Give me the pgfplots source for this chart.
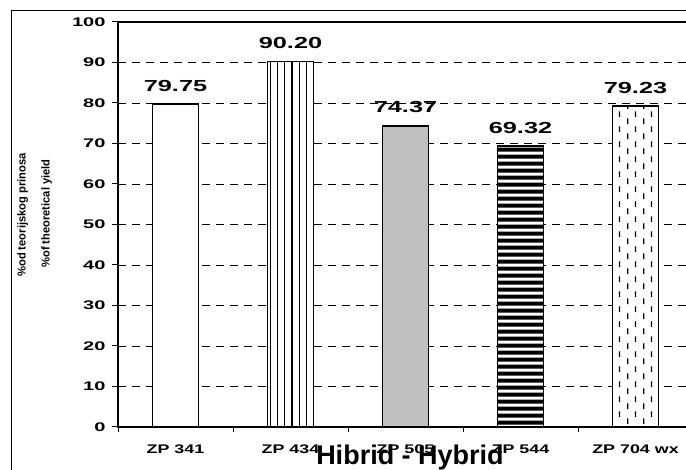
\documentclass[border=0pt]{standalone}
\usepackage{pgfplots}
\pgfplotsset{compat=1.18}
\usepackage{fontspec}
\setmainfont{Liberation Sans}
\usetikzlibrary{patterns,patterns.meta}

% short staggered vertical dashes (ZP 704 wx)
\tikzdeclarepattern{
  name=vdashes, type=uncolored,
  bounding box={(0,0) and (16pt,15pt)},
  tile size={(16pt,15pt)},
  code={
    \draw[line width=1.3pt] (4pt,1pt) -- (4pt,7pt);
    \draw[line width=1.3pt] (12pt,8.5pt) -- (12pt,14.5pt);
  }
}
\definecolor{barGray}{RGB}{192,192,192}

\begin{document}
\begin{tikzpicture}[x=1pt,y=1pt]
\useasboundingbox (0,0) rectangle (686,470);
\clip (0,0) rectangle (686,470);
\draw[line width=1pt] (11,-20) rectangle (720,459);
\begin{axis}[
  at={(118pt,43pt)}, anchor=south west,
  scale only axis, width=575pt, height=405pt,
  xmin=-0.5, xmax=4.5, ymin=0, ymax=100,
  ybar, bar width=46pt, bar shift=0pt,
  axis line style={line width=1.3pt},
  /pgf/number format/assume math mode=true,
  ytick={0,10,...,100},
  yticklabel={\scalebox{1.6}[1]{\pgfmathprintnumber{\tick}}},
  yticklabel style={font=\bfseries\fontsize{12.5}{13}\selectfont, xshift=-3pt},
  xtick={0,...,4},
  xticklabels={\scalebox{1.43}[1]{ZP 341},\scalebox{1.43}[1]{ZP 434},\scalebox{1.43}[1]{ZP 505},\scalebox{1.43}[1]{ZP 544},\scalebox{1.43}[1]{ZP 704 wx}},
  xticklabel style={font=\bfseries\fontsize{12.5}{13}\selectfont, yshift=-8pt},
  minor xtick={-0.5,0.5,...,4.5},
  tick align=outside, tick pos=left,
  major tick length=6pt, minor tick length=5pt,
  major x tick style={draw=none},
  tick style={line width=1pt, black},
  ymajorgrids,
  major grid style={dash pattern=on 8pt off 6pt, line width=0.9pt, black},
  nodes near coords style={font=\bfseries\fontsize{16}{16}\selectfont, anchor=base, yshift=13pt},
]
\addplot[fill=white, draw=none,
  nodes near coords={\scalebox{1.58}[1]{\pgfmathprintnumber[fixed,fixed zerofill,precision=2]{\pgfplotspointmeta}}}]
  coordinates {(0,79.75) (1,90.20) (2,74.37) (3,69.32) (4,79.23)};
\addplot[draw=black, line width=1.5pt, fill=white] coordinates {(0,79.75)};
\addplot[draw=black, line width=1.5pt, pattern={Lines[angle=90,distance=7.3pt,line width=1.2pt]}, pattern color=black] coordinates {(1,90.20)};
\addplot[draw=black, line width=1.5pt, fill=barGray] coordinates {(2,74.37)};
\addplot[draw=black, line width=1.5pt, pattern={Lines[angle=0,distance=6.9pt,line width=4pt]}, pattern color=black] coordinates {(3,69.32)};
\addplot[draw=black, line width=1.5pt, pattern=vdashes, pattern color=black] coordinates {(4,79.23)};
\end{axis}
\node[anchor=base, font=\bfseries\fontsize{27}{27}\selectfont] at (410,5) {Hibrid - Hybrid};
\node[rotate=90, anchor=base, font=\bfseries\fontsize{11.5}{12}\selectfont] at (25.5,255) {\scalebox{0.97}[1]{\%od teorijskog prinosa}};
\node[rotate=90, anchor=base, font=\bfseries\fontsize{11.5}{12}\selectfont] at (49.5,256.5) {\scalebox{0.97}[1]{\%of theoretical yield}};
\end{tikzpicture}
\end{document}
